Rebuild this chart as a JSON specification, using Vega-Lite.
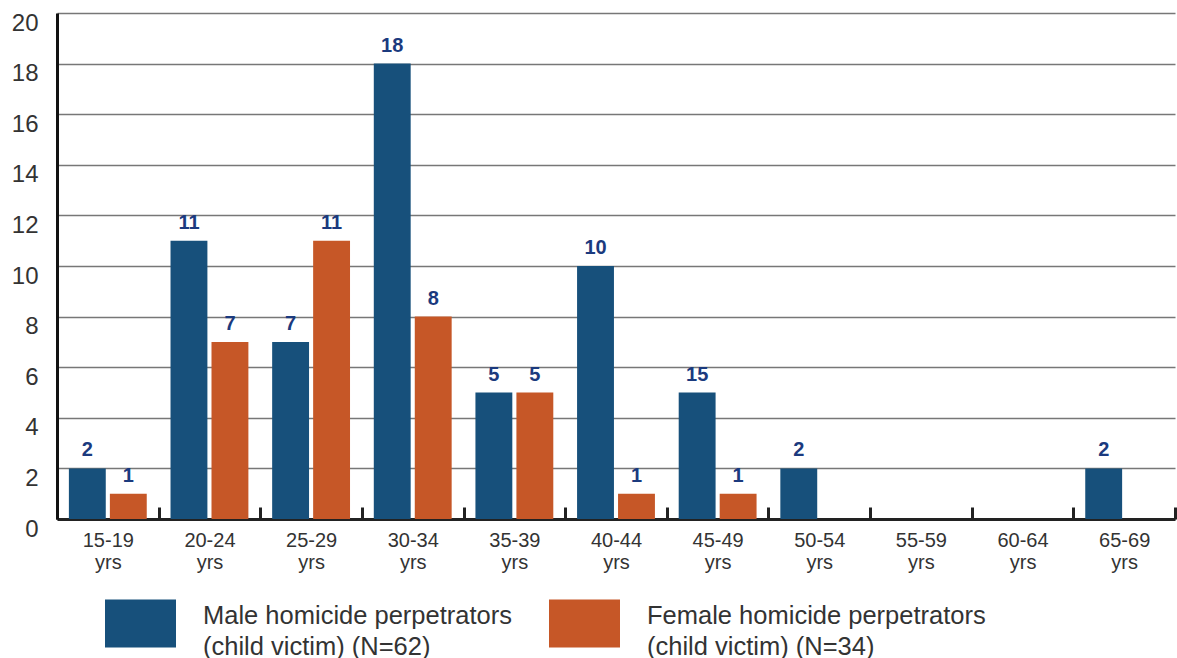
{
  "$schema": "https://vega.github.io/schema/vega-lite/v6.json",
  "autosize": {"type": "none"},
  "width": 1118,
  "height": 506,
  "padding": {"left": 57, "top": 13, "right": 2, "bottom": 139},
  "background": "white",
  "data": {
    "values": [
      {"age": "15-19", "sex": "Male", "value": 2, "label": "2"},
      {"age": "15-19", "sex": "Female", "value": 1, "label": "1"},
      {"age": "20-24", "sex": "Male", "value": 11, "label": "11"},
      {"age": "20-24", "sex": "Female", "value": 7, "label": "7"},
      {"age": "25-29", "sex": "Male", "value": 7, "label": "7"},
      {"age": "25-29", "sex": "Female", "value": 11, "label": "11"},
      {"age": "30-34", "sex": "Male", "value": 18, "label": "18"},
      {"age": "30-34", "sex": "Female", "value": 8, "label": "8"},
      {"age": "35-39", "sex": "Male", "value": 5, "label": "5"},
      {"age": "35-39", "sex": "Female", "value": 5, "label": "5"},
      {"age": "40-44", "sex": "Male", "value": 10, "label": "10"},
      {"age": "40-44", "sex": "Female", "value": 1, "label": "1"},
      {"age": "45-49", "sex": "Male", "value": 5, "label": "15"},
      {"age": "45-49", "sex": "Female", "value": 1, "label": "1"},
      {"age": "50-54", "sex": "Male", "value": 2, "label": "2"},
      {"age": "65-69", "sex": "Male", "value": 2, "label": "2"}
    ]
  },
  "encoding": {
    "x": {
      "field": "age",
      "type": "nominal",
      "scale": {
        "domain": ["15-19", "20-24", "25-29", "30-34", "35-39", "40-44", "45-49", "50-54", "55-59", "60-64", "65-69"],
        "paddingInner": 0,
        "paddingOuter": 0
      },
      "axis": {
        "title": null,
        "labelAngle": 0,
        "labelExpr": "datum.label ? [datum.label, 'yrs'] : ''",
        "labelFont": "Liberation Sans",
        "labelFontSize": 20,
        "labelColor": "#333333",
        "labelLineHeight": 22,
        "labelPadding": 23,
        "tickBand": "extent",
        "tickSize": -12,
        "tickWidth": 3,
        "tickColor": "#222222",
        "domainColor": "#222222",
        "domainWidth": 3,
        "grid": false
      }
    },
    "xOffset": {
      "field": "sex",
      "type": "nominal",
      "scale": {"domain": ["Male", "Female"], "paddingInner": 0.1, "paddingOuter": 0.29}
    },
    "y": {
      "field": "value",
      "type": "quantitative",
      "scale": {"domain": [0, 20], "nice": false},
      "axis": {
        "title": null,
        "values": [0, 2, 4, 6, 8, 10, 12, 14, 16, 18, 20],
        "ticks": false,
        "grid": true,
        "gridColor": "#777777",
        "gridWidth": 1.5,
        "domain": true,
        "domainColor": "#111111",
        "domainWidth": 3,
        "labelFont": "Liberation Sans",
        "labelFontSize": 24,
        "labelColor": "#333333",
        "labelPadding": 19,
        "labelOffset": 10
      }
    }
  },
  "layer": [
    {
      "mark": {"type": "bar"},
      "encoding": {
        "color": {
          "field": "sex",
          "type": "nominal",
          "scale": {"domain": ["Male", "Female"], "range": ["#17507b", "#c65727"]},
          "legend": {
            "title": null,
            "orient": "none",
            "legendX": 48,
            "legendY": 575,
            "direction": "horizontal",
            "padding": 0,
            "symbolType": "M-1,-0.676H1V0.676H-1Z",
            "symbolSize": 5041,
            "symbolStrokeWidth": 0,
            "symbolOpacity": 1,
            "labelFont": "Liberation Sans",
            "labelFontSize": 25.5,
            "labelColor": "#333333",
            "labelOffset": 27,
            "labelLimit": 500,
            "labelBaseline": "alphabetic",
            "columnPadding": 37,
            "labelExpr": "datum.label == 'Male' ? ['Male homicide perpetrators', '(child victim) (N=62)'] : ['Female homicide perpetrators', '(child victim) (N=34)']"
          }
        }
      }
    },
    {
      "mark": {"type": "text", "dy": -18, "font": "Liberation Sans", "fontSize": 20, "fontWeight": "bold", "color": "#1b3a7e"},
      "encoding": {
        "text": {"field": "label", "type": "nominal"}
      }
    }
  ],
  "config": {
    "view": {"stroke": null},
    "style": {"guide-label": {"lineHeight": 31}}
  }
}
